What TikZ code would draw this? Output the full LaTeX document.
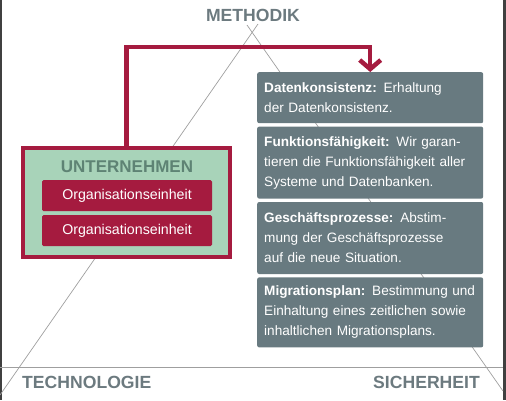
\documentclass[tikz,border=0pt]{standalone}
\usepackage{fontspec}
\setmainfont{Liberation Sans}
\usepackage{xcolor}
\usetikzlibrary{calc,arrows.meta,positioning}

\definecolor{crimson}{HTML}{A51B3F}
\definecolor{slate}{HTML}{687A80}
\definecolor{mint}{HTML}{A8D3B9}
\definecolor{heading}{HTML}{6C7A7F}
\definecolor{mintdark}{HTML}{5E8374}

\begin{document}
\begin{tikzpicture}[
x=1pt,y=-1pt,
axis/.style={draw=gray!75, line width=0.7pt},
edge/.style={draw=black!75, line width=1.5pt},
corner/.style={text=heading, font=\fontsize{17.6}{20}\selectfont\bfseries, inner sep=0pt},
firm/.style={rectangle, draw=crimson, fill=mint, line width=4pt, minimum width=207pt, minimum height=109pt},
unit/.style={rectangle, rounded corners=1.5pt, fill=crimson, text=white, minimum width=170pt, minimum height=31pt, inner sep=0pt, font=\fontsize{14.2}{16}\selectfont},
info/.style={rectangle, rounded corners=2pt, fill=slate, text=white, text width=218pt, inner xsep=4pt, inner ysep=0pt, align=left, font=\fontsize{13.6}{20}\selectfont},
route/.style={-{Straight Barb[length=9pt,width=21pt]}, line width=4.5pt, crimson},
node distance=3pt,
]
\useasboundingbox (0,0) rectangle (506,400);

%frame of the screenshot
\draw[edge] (1,0) -- (1,400);
\draw[edge, line width=3pt] (504.5,0) -- (504.5,400);

%triangle behind everything
\coordinate (apexl) at (258,24);
\coordinate (apexr) at (247,25);
\coordinate (bl) at (0,395);
\coordinate (br) at (503,391);
\draw[axis] (apexl) -- (bl);
\draw[axis] (apexr) -- (br);
\draw[axis] (0,367) -- (503,367);

%corner labels
\node(methodik)[corner] at (253,15){METHODIK};
\node(technologie)[corner, anchor=west] at (22,382){TECHNOLOGIE};
\node(sicherheit)[corner, anchor=east] at (480,382){SICHERHEIT};

%company with its units
\node(firm)[firm] at (126.5,202.5){};
\node(title)[text=mintdark, font=\fontsize{17}{18}\selectfont\bfseries, inner sep=0pt] at (127,167){UNTERNEHMEN};
\node(org1)[unit] at (127,195.5){Organisationseinheit};
\node(org2)[unit] at (127,230.5){Organisationseinheit};

%goals
\node(dk)[info, minimum height=51pt, anchor=north west] at (257,72){\hspace*{3pt}\textbf{Datenkonsistenz:} Erhaltung\\\hspace*{3pt}der Datenkonsistenz.};
\node(ff)[info, minimum height=72pt, below=of dk]{\hspace*{3pt}\textbf{Funktionsfähigkeit:} Wir garan-\\\hspace*{3pt}tieren die Funktionsfähigkeit aller\\\hspace*{3pt}Systeme und Datenbanken.};
\node(gp)[info, minimum height=72pt, below=of ff]{\hspace*{3pt}\textbf{Geschäftsprozesse:} Abstim-\\\hspace*{3pt}mung der Geschäftsprozesse\\\hspace*{3pt}auf die neue Situation.};
\node(mp)[info, minimum height=70pt, below=of gp]{\hspace*{3pt}\textbf{Migrationsplan:} Bestimmung und\\\hspace*{3pt}Einhaltung eines zeitlichen sowie\\\hspace*{3pt}inhaltlichen Migrationsplans.};

\draw[route] (firm.north) -- ++(0,-99) -| (dk.north);

\end{tikzpicture}
\end{document}
